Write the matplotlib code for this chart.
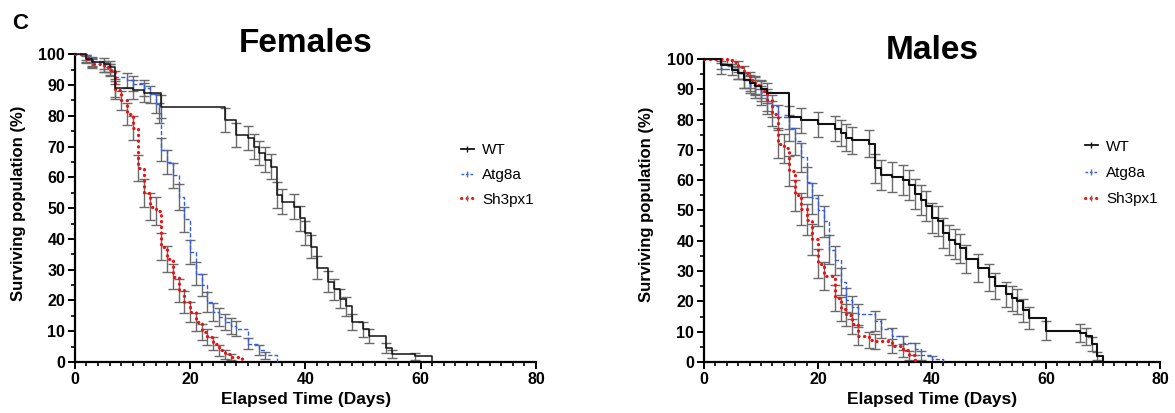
import matplotlib.pyplot as plt
from matplotlib.lines import Line2D
from matplotlib.ticker import MultipleLocator
import numpy as np

plt.rcParams['font.family'] = ['Liberation Sans', 'DejaVu Sans']

# Females - Kaplan-Meier steps (day, % surviving, SEM)
fw_t = [0, 2, 3, 5, 6, 7, 10, 12, 15, 26, 28, 30, 31, 32, 33, 34, 35, 36, 38, 39,
        40, 41, 42, 44, 45, 46, 47, 48, 50, 51, 54, 55, 59, 62]
fw_s = [100, 98.5, 97.5, 97, 96, 89, 88.5, 87.5, 83, 78.5, 73.8, 72.8, 70, 67.9, 65.7, 63.5,
        54.3, 52.1, 50.5, 46.7, 42, 37.5, 30.7, 26.1, 23.6, 20.6, 18.1, 13, 10.6, 8.4,
        4.6, 2.7, 1.9, 0]
fw_e = [0, 1.2, 1.5, 1.7, 1.8, 2.9, 3, 3.1, 3.8, 3.9, 4, 4, 4, 4, 4.1, 4.1,
        4.1, 4.1, 4, 4, 3.9, 3.8, 3.7, 3.5, 3.3, 3.2, 3, 2.7, 2.4, 2.2,
        1.7, 1.3, 1.1, 0]

fa_t = [0, 2, 3, 5, 6, 7, 9, 10, 12, 13, 14, 14.5, 15, 16, 17, 18, 19, 20, 21, 22,
        23, 24, 25, 26, 27, 28, 30, 32, 33, 35]
fa_s = [100, 99, 97.5, 96, 95, 92.5, 91.5, 90.5, 89, 87, 84, 81, 69, 65, 60.7, 53.6, 46.4,
        35.8, 28.7, 25, 19.5, 16.3, 14.6, 13, 11.6, 10.8, 6, 4, 2.2, 0]
fa_e = [0, 0.8, 1.2, 1.6, 1.8, 2.1, 2.3, 2.4, 2.6, 2.7, 3, 3.2, 3.8, 3.9, 4, 4.1, 4.1,
        3.9, 3.7, 3.5, 3.2, 3, 2.9, 2.7, 2.6, 2.5, 1.9, 1.6, 1.2, 0]

fs_t = [0, 2, 3, 5, 6, 7, 8, 9, 10, 11, 12, 13, 14, 15, 16, 17, 18, 19, 20, 21,
        22, 23, 24, 25, 26, 27, 29]
fs_s = [100, 98.5, 97, 96, 95, 88.5, 85, 80.5, 76, 63, 55, 50.5, 49, 37.5, 33.4, 27.7,
        23.3, 19.5, 16.3, 13, 9.8, 8.1, 6, 3.8, 2.5, 1.6, 0]
fs_e = [0, 1.1, 1.5, 1.8, 2, 2.9, 3.2, 3.6, 3.9, 4.3, 4.5, 4.5, 4.5, 4.4, 4.3, 4,
        3.8, 3.6, 3.3, 3, 2.7, 2.5, 2.1, 1.7, 1.4, 1.1, 0]

# Males
mw_t = [0, 3, 5, 6, 7, 8, 9, 10, 11, 15, 17, 20, 23, 24, 25, 26, 29, 30, 31, 33,
        35, 36, 37, 38, 39, 40, 41, 42, 43, 44, 45, 46, 48, 50, 51, 53, 54, 55, 56, 57,
        60, 66, 67, 68, 69, 70]
mw_s = [100, 98, 96.5, 95.5, 93, 92, 91, 90, 88.8, 80.7, 79.7, 78.5, 77, 75.5, 74, 73.2,
        72, 64, 61.8, 61, 60, 58.5, 55.5, 53.5, 51.5, 47.5, 46.5, 42.5, 40.3, 39,
        37.5, 34, 31, 28, 25, 22.3, 21, 20, 17, 14.5, 10.3, 9.5, 8.5, 6, 2, 0]
mw_e = [0, 1.4, 1.8, 2, 2.5, 2.7, 2.9, 3, 3.2, 3.9, 4, 4.1, 4.2, 4.3, 4.4, 4.4,
        4.5, 4.8, 4.9, 4.9, 4.9, 4.9, 5, 5, 5, 5, 5, 4.9, 4.9, 4.9,
        4.8, 4.7, 4.6, 4.5, 4.3, 4.2, 4.1, 4, 3.8, 3.5, 3.1, 3, 2.8, 2.4, 1.4, 0]

ma_t = [0, 3, 6, 7, 8, 9, 10, 11, 12, 13, 15, 16, 17, 18, 19, 20, 21, 22, 23, 24,
        25, 26, 27, 30, 31, 33, 35, 37, 38, 40, 42]
ma_s = [100, 96.8, 95.5, 93, 91.5, 90, 88, 85.5, 84.5, 81, 77.2, 72.8, 67.5, 59.5, 54,
        50, 46.4, 37, 33.5, 26.5, 20.5, 18, 15.7, 13.5, 11, 8.5, 6.3, 4.4, 2.2, 1, 0]
ma_e = [0, 1.8, 2, 2.5, 2.8, 3, 3.2, 3.5, 3.6, 3.9, 4.2, 4.5, 4.7, 4.9, 5, 5, 5,
        4.8, 4.7, 4.4, 4, 3.8, 3.6, 3.4, 3.1, 2.8, 2.4, 2, 1.5, 1, 0]

ms_t = [0, 4, 5, 6, 7, 8, 9, 10, 11, 12, 13, 14, 15, 16, 17, 18, 19, 20, 21, 23,
        24, 25, 26, 27, 29, 30, 33, 35, 36, 37]
ms_s = [100, 99.5, 99, 97.5, 95.5, 93, 91.5, 89.5, 86.5, 82, 72, 70.5, 63, 55, 50.5, 47,
        40.5, 32.5, 28.3, 21, 17.5, 15.5, 12.7, 8.5, 7.3, 6.8, 5.3, 3.8, 2.2, 0]
ms_e = [0, 1, 1.2, 1.7, 2.2, 2.7, 3, 3.3, 3.7, 4.1, 4.7, 4.8, 5, 5.2, 5.2, 5.2,
        5.1, 4.9, 4.7, 4.3, 3.9, 3.7, 3.4, 2.9, 2.7, 2.6, 2.3, 2, 1.5, 0]

labels = ['WT', 'Atg8a', 'Sh3px1']
colors = ['#111111', '#2f5df0', '#ee1111']


def km(ax, t, s, e, color, ls, lw, **kw):
    t = np.array(t)
    s = np.array(s)
    e = np.array(e)
    m = e > 0
    ax.errorbar(t[m], s[m], yerr=e[m], fmt='none', ecolor='#6a6a6a', elinewidth=1.0,
                capsize=3.5, capthick=1.0, zorder=2)
    ax.step(t, s, where='post', color=color, ls=ls, lw=lw, zorder=3, clip_on=False, **kw)


fig = plt.figure(figsize=(11.75, 4.13), dpi=100)
ax1 = fig.add_axes([0.0638, 0.1235, 0.3923, 0.745])
ax2 = fig.add_axes([0.5991, 0.1235, 0.3881, 0.7337])

dot = dict(dash_capstyle='round')
km(ax1, fa_t, fa_s, fa_e, colors[1], (0, (3, 1.5)), 1.0)
km(ax1, fs_t, fs_s, fs_e, colors[2], (0, (0.1, 1.7)), 2.3, **dot)
km(ax1, fw_t, fw_s, fw_e, colors[0], '-', 1.1)

km(ax2, ma_t, ma_s, ma_e, colors[1], (0, (3, 1.5)), 1.0)
km(ax2, ms_t, ms_s, ms_e, colors[2], (0, (0.1, 1.7)), 2.3, **dot)
km(ax2, mw_t, mw_s, mw_e, colors[0], '-', 1.5)

for ax in (ax1, ax2):
    ax.set_xlim(0, 80)
    ax.set_ylim(0, 100)
    for sp in ('top', 'right'):
        ax.spines[sp].set_visible(False)
    for sp in ('left', 'bottom'):
        ax.spines[sp].set_linewidth(1.6)
    ax.set_xticks([0, 20, 40, 60, 80])
    ax.xaxis.set_minor_locator(MultipleLocator(2))
    ax.set_yticks(range(0, 101, 10))
    ax.yaxis.set_minor_locator(MultipleLocator(5))
    ax.tick_params(which='major', direction='out', length=5, width=1.4, labelsize=11.5, pad=2)
    ax.tick_params(which='minor', direction='out', length=3, width=1.2)
    for lbl in ax.get_xticklabels() + ax.get_yticklabels():
        lbl.set_fontweight('bold')

    handles = [
        Line2D([0], [0], color=colors[0], lw=1.3, ls='-', marker='|', markersize=5),
        Line2D([0], [0], color=colors[1], lw=1.0, ls=(0, (2, 1.2)), marker='|', markersize=5,
               markeredgecolor='#707070'),
        Line2D([0], [0], color=colors[2], lw=2.2, ls=(0, (0.1, 1.7)), dash_capstyle='round',
               marker='|', markersize=5, markeredgecolor='#707070'),
    ]

ax1.legend(handles, labels, loc='center left', bbox_to_anchor=(0.392, 0.576),
           bbox_transform=fig.transFigure, frameon=False, handlelength=0.9,
           handletextpad=0.5, labelspacing=0.7, borderpad=0, borderaxespad=0,
           prop={'size': 11})
ax2.legend(handles, labels, loc='center left', bbox_to_anchor=(0.923, 0.581),
           bbox_transform=fig.transFigure, frameon=False, handlelength=0.9,
           handletextpad=0.5, labelspacing=0.8, borderpad=0, borderaxespad=0,
           prop={'size': 11})

fig.text(0.2604, 0.8734, 'Females', ha='center', va='baseline', fontsize=24, fontweight='bold')
fig.text(0.7932, 0.857, 'Males', ha='center', va='baseline', fontsize=24, fontweight='bold')
fig.text(0.010, 0.9298, 'C', ha='left', va='baseline', fontsize=16, fontweight='bold')

fig.text(0.0157, 0.508, 'Surviving population (%)', rotation=90, ha='center', va='center',
         fontsize=12, fontweight='bold')
fig.text(0.5506, 0.506, 'Surviving population (%)', rotation=90, ha='center', va='center',
         fontsize=12, fontweight='bold')
fig.text(0.2604, 0.0315, 'Elapsed Time (Days)', ha='center', va='center',
         fontsize=12.5, fontweight='bold')
fig.text(0.7932, 0.0315, 'Elapsed Time (Days)', ha='center', va='center',
         fontsize=12.5, fontweight='bold')

fig.savefig('out.png', dpi=100)
